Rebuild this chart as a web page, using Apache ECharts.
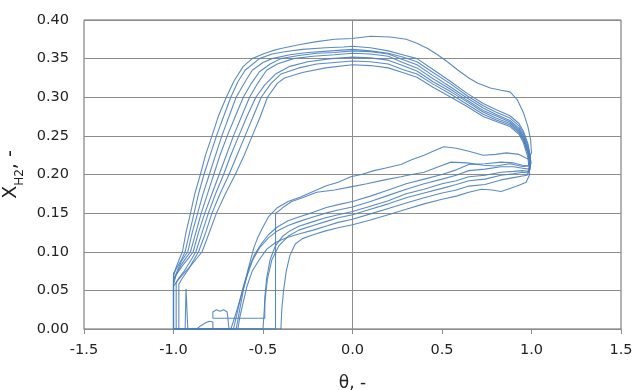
<!DOCTYPE html>
<html>
<head>
<meta charset="utf-8">
<script src="https://cdn.jsdelivr.net/npm/echarts@6/dist/echarts.min.js"></script>
<style>
  html, body { margin: 0; padding: 0; background: #fff; }
  #chart { width: 633px; height: 390px; }
</style>
</head>
<body>
<div id="chart"></div>
<script>
// x axis ticks and y axis ticks
const thetaTicks = { min: -1.5, max: 1.5, step: 0.5 };
const xh2Ticks = { min: 0, max: 0.4, step: 0.05 };

// cycles: [theta, X_H2]
const cycle1 = [[-1.0,0.0],[-1.0,0.068],[-0.985,0.08],[-0.965,0.092],[-0.95,0.10],[-0.93,0.125],[-0.905,0.15],[-0.88,0.176],[-0.85,0.2],[-0.82,0.226],[-0.785,0.25],[-0.75,0.275],[-0.705,0.3],[-0.66,0.322],[-0.61,0.34],[-0.56,0.35],[-0.5,0.356],[-0.45,0.36],[-0.4,0.363],[-0.3,0.368],[-0.2,0.372],[-0.1,0.375],[0.0,0.376],[0.1,0.379],[0.21,0.378],[0.3,0.375],[0.36,0.37],[0.42,0.363],[0.475,0.355],[0.53,0.346],[0.59,0.335],[0.65,0.325],[0.7,0.318],[0.77,0.312],[0.83,0.309],[0.88,0.307],[0.92,0.297],[0.955,0.28],[0.98,0.262],[0.995,0.245],[1.0,0.228],[0.98,0.22],[0.93,0.226],[0.86,0.228],[0.8,0.226],[0.73,0.225],[0.65,0.23],[0.58,0.234],[0.51,0.236],[0.45,0.23],[0.4,0.225],[0.33,0.219],[0.27,0.213],[0.18,0.208],[0.12,0.205],[0.05,0.2],[-0.01,0.197],[-0.08,0.19],[-0.15,0.185],[-0.22,0.178],[-0.29,0.171],[-0.36,0.165],[-0.42,0.157],[-0.47,0.145],[-0.5,0.132],[-0.53,0.118],[-0.55,0.106],[-0.58,0.08],[-0.61,0.05],[-0.63,0.025],[-0.65,0.0],[-1.0,0.0]];
const cycle2 = [[-1.0,0.0],[-1.0,0.072],[-0.975,0.082],[-0.955,0.09],[-0.935,0.10],[-0.91,0.125],[-0.885,0.15],[-0.86,0.175],[-0.83,0.2],[-0.795,0.225],[-0.76,0.25],[-0.72,0.275],[-0.68,0.3],[-0.64,0.32],[-0.6,0.335],[-0.52,0.35],[-0.45,0.356],[-0.38,0.359],[-0.28,0.362],[-0.15,0.364],[-0.05,0.365],[0.0,0.366],[0.1,0.364],[0.2,0.36],[0.28,0.355],[0.36,0.35],[0.45,0.336],[0.55,0.32],[0.64,0.305],[0.73,0.292],[0.8,0.284],[0.88,0.276],[0.93,0.266],[0.955,0.256],[0.98,0.24],[0.995,0.222],[0.99,0.212],[0.955,0.21],[0.88,0.214],[0.8,0.211],[0.73,0.212],[0.64,0.215],[0.55,0.216],[0.48,0.21],[0.4,0.203],[0.33,0.2],[0.27,0.197],[0.18,0.193],[0.08,0.188],[-0.01,0.184],[-0.1,0.18],[-0.2,0.177],[-0.28,0.17],[-0.34,0.165],[-0.385,0.158],[-0.41,0.153],[-0.43,0.15],[-0.43,0.0],[-1.0,0.0]];
const cycle3 = [[-1.0,0.0],[-1.0,0.062],[-0.98,0.075],[-0.955,0.088],[-0.92,0.1],[-0.895,0.125],[-0.865,0.15],[-0.835,0.175],[-0.8,0.2],[-0.765,0.225],[-0.73,0.25],[-0.69,0.275],[-0.65,0.3],[-0.6,0.32],[-0.56,0.335],[-0.5,0.345],[-0.45,0.35],[-0.35,0.355],[-0.25,0.358],[-0.12,0.36],[0.0,0.362],[0.1,0.36],[0.2,0.357],[0.28,0.352],[0.36,0.346],[0.45,0.332],[0.55,0.317],[0.64,0.302],[0.73,0.289],[0.8,0.281],[0.88,0.273],[0.93,0.263],[0.955,0.253],[0.98,0.237],[0.995,0.218],[0.98,0.211],[0.95,0.212],[0.9,0.215],[0.83,0.216],[0.74,0.214],[0.65,0.213],[0.58,0.206],[0.5,0.2],[0.4,0.194],[0.3,0.188],[0.2,0.18],[0.1,0.172],[0.0,0.165],[-0.08,0.161],[-0.15,0.157],[-0.22,0.151],[-0.3,0.145],[-0.36,0.14],[-0.42,0.132],[-0.47,0.122],[-0.51,0.11],[-0.55,0.095],[-0.58,0.078],[-0.61,0.055],[-0.63,0.035],[-0.65,0.015],[-0.665,0.0],[-1.0,0.0]];
const cycle4 = [[-1.0,0.0],[-1.0,0.058],[-0.985,0.07],[-0.96,0.082],[-0.93,0.092],[-0.905,0.1],[-0.875,0.125],[-0.845,0.15],[-0.81,0.175],[-0.775,0.2],[-0.74,0.225],[-0.7,0.25],[-0.655,0.275],[-0.61,0.3],[-0.565,0.318],[-0.52,0.333],[-0.46,0.343],[-0.4,0.35],[-0.3,0.354],[-0.2,0.357],[-0.1,0.358],[0.0,0.36],[0.1,0.359],[0.2,0.356],[0.28,0.349],[0.36,0.342],[0.45,0.328],[0.55,0.313],[0.64,0.299],[0.73,0.286],[0.8,0.278],[0.88,0.27],[0.93,0.26],[0.955,0.25],[0.98,0.234],[0.998,0.215],[0.985,0.207],[0.95,0.208],[0.9,0.21],[0.83,0.21],[0.74,0.207],[0.65,0.205],[0.58,0.199],[0.5,0.194],[0.4,0.188],[0.3,0.181],[0.2,0.173],[0.1,0.165],[0.0,0.158],[-0.08,0.154],[-0.15,0.15],[-0.22,0.145],[-0.3,0.139],[-0.36,0.134],[-0.42,0.127],[-0.47,0.118],[-0.52,0.105],[-0.56,0.088],[-0.59,0.068],[-0.62,0.045],[-0.645,0.025],[-0.665,0.01],[-0.68,0.0],[-1.0,0.0]];
const cycle5 = [[-1.0,0.0],[-1.0,0.065],[-0.98,0.072],[-0.95,0.082],[-0.915,0.092],[-0.89,0.1],[-0.86,0.125],[-0.825,0.15],[-0.785,0.175],[-0.745,0.2],[-0.705,0.225],[-0.665,0.25],[-0.62,0.275],[-0.575,0.3],[-0.53,0.318],[-0.48,0.335],[-0.42,0.343],[-0.33,0.35],[-0.22,0.353],[-0.1,0.355],[0.0,0.357],[0.1,0.356],[0.2,0.353],[0.28,0.345],[0.36,0.338],[0.45,0.324],[0.55,0.31],[0.64,0.296],[0.73,0.283],[0.8,0.276],[0.88,0.268],[0.93,0.258],[0.955,0.248],[0.98,0.231],[0.995,0.212],[0.98,0.204],[0.95,0.205],[0.9,0.204],[0.83,0.203],[0.74,0.199],[0.65,0.197],[0.58,0.192],[0.5,0.188],[0.4,0.181],[0.3,0.175],[0.2,0.166],[0.1,0.159],[0.0,0.152],[-0.08,0.148],[-0.15,0.144],[-0.22,0.139],[-0.3,0.133],[-0.35,0.127],[-0.39,0.12],[-0.43,0.108],[-0.46,0.09],[-0.48,0.065],[-0.49,0.04],[-0.49,0.014],[-0.6,0.014],[-0.7,0.014],[-0.78,0.014],[-0.78,0.022],[-0.76,0.025],[-0.74,0.023],[-0.72,0.025],[-0.7,0.022],[-0.69,0.022],[-0.69,0.0],[-1.0,0.0]];
const cycle6 = [[-0.985,0.0],[-0.985,0.06],[-0.97,0.066],[-0.94,0.075],[-0.905,0.088],[-0.875,0.1],[-0.84,0.125],[-0.805,0.15],[-0.765,0.175],[-0.72,0.2],[-0.68,0.225],[-0.635,0.25],[-0.59,0.275],[-0.54,0.3],[-0.49,0.316],[-0.43,0.33],[-0.35,0.34],[-0.25,0.346],[-0.12,0.35],[0.0,0.352],[0.1,0.351],[0.2,0.348],[0.28,0.341],[0.36,0.334],[0.45,0.32],[0.55,0.307],[0.64,0.294],[0.73,0.281],[0.8,0.273],[0.88,0.266],[0.93,0.256],[0.955,0.246],[0.98,0.229],[0.995,0.21],[0.98,0.202],[0.95,0.203],[0.9,0.201],[0.83,0.199],[0.74,0.194],[0.65,0.192],[0.58,0.187],[0.5,0.182],[0.4,0.176],[0.3,0.17],[0.2,0.162],[0.1,0.155],[0.0,0.148],[-0.08,0.144],[-0.15,0.139],[-0.22,0.134],[-0.3,0.128],[-0.36,0.12],[-0.41,0.108],[-0.45,0.09],[-0.475,0.065],[-0.49,0.035],[-0.5,0.0],[-0.78,0.0],[-0.78,0.009],[-0.8,0.01],[-0.82,0.008],[-0.85,0.004],[-0.87,0.0],[-0.985,0.0]];
const cycle7 = [[-0.97,0.0],[-0.97,0.058],[-0.95,0.066],[-0.92,0.076],[-0.89,0.088],[-0.86,0.1],[-0.82,0.125],[-0.785,0.15],[-0.74,0.175],[-0.69,0.2],[-0.645,0.225],[-0.6,0.25],[-0.555,0.275],[-0.51,0.3],[-0.455,0.318],[-0.4,0.33],[-0.3,0.338],[-0.2,0.343],[-0.1,0.345],[0.0,0.347],[0.1,0.346],[0.2,0.343],[0.28,0.336],[0.36,0.33],[0.45,0.317],[0.55,0.304],[0.64,0.291],[0.73,0.278],[0.8,0.271],[0.88,0.264],[0.93,0.254],[0.955,0.244],[0.98,0.227],[0.993,0.207],[0.975,0.199],[0.95,0.198],[0.9,0.196],[0.83,0.193],[0.74,0.187],[0.65,0.185],[0.58,0.18],[0.5,0.176],[0.4,0.17],[0.3,0.163],[0.2,0.156],[0.1,0.149],[0.0,0.142],[-0.08,0.138],[-0.15,0.133],[-0.22,0.128],[-0.3,0.123],[-0.37,0.118],[-0.43,0.112],[-0.48,0.103],[-0.52,0.09],[-0.56,0.075],[-0.59,0.055],[-0.61,0.035],[-0.63,0.015],[-0.64,0.0],[-0.97,0.0]];
const cycle8 = [[-1.0,0.0],[-1.0,0.055],[-0.98,0.062],[-0.95,0.07],[-0.91,0.08],[-0.875,0.09],[-0.84,0.1],[-0.8,0.125],[-0.76,0.15],[-0.71,0.175],[-0.655,0.2],[-0.605,0.225],[-0.56,0.25],[-0.515,0.275],[-0.475,0.3],[-0.42,0.318],[-0.38,0.325],[-0.28,0.332],[-0.15,0.338],[0.0,0.342],[0.1,0.341],[0.2,0.338],[0.28,0.332],[0.36,0.326],[0.45,0.313],[0.55,0.3],[0.64,0.288],[0.73,0.275],[0.8,0.269],[0.88,0.262],[0.93,0.252],[0.955,0.241],[0.98,0.222],[0.99,0.2],[0.97,0.19],[0.93,0.186],[0.88,0.182],[0.83,0.178],[0.78,0.18],[0.72,0.181],[0.65,0.177],[0.58,0.172],[0.5,0.168],[0.4,0.162],[0.3,0.155],[0.2,0.148],[0.1,0.141],[0.0,0.135],[-0.08,0.131],[-0.15,0.127],[-0.22,0.122],[-0.28,0.117],[-0.32,0.11],[-0.35,0.095],[-0.37,0.075],[-0.385,0.05],[-0.395,0.025],[-0.4,0.0],[-0.92,0.0],[-0.93,0.052],[-0.935,0.0],[-1.0,0.0]];

const cycles = [cycle1, cycle2, cycle3, cycle4, cycle5, cycle6, cycle7, cycle8];

const chart = echarts.init(document.getElementById('chart'));
const labelFont = { fontFamily: 'DejaVu Sans', fontSize: 14.5, color: '#222' };

chart.setOption({
  animation: false,
  grid: {
    left: 84, right: 12, top: 20, bottom: 61,
    outerBoundsMode: 'none',
    show: true, borderColor: '#666', borderWidth: 1
  },
  xAxis: {
    type: 'value',
    min: thetaTicks.min, max: thetaTicks.max, interval: thetaTicks.step,
    name: 'θ, -',
    nameLocation: 'middle',
    nameGap: 46,
    nameTextStyle: { fontFamily: 'DejaVu Sans', fontSize: 17, color: '#222' },
    axisLine: { onZero: false, lineStyle: { color: '#8c8c8c', width: 1 } },
    axisTick: { show: true, inside: false, length: 5, lineStyle: { color: '#8c8c8c' } },
    axisLabel: Object.assign({ margin: 14, formatter: v => v.toFixed(1) }, labelFont),
    splitLine: { show: false }
  },
  yAxis: {
    type: 'value',
    min: xh2Ticks.min, max: xh2Ticks.max, interval: xh2Ticks.step,
    name: '{x|X}{s|H2}{x|, -}',
    nameLocation: 'middle',
    nameGap: 54,
    nameTextStyle: {
      color: '#222',
      rich: {
        x: { fontFamily: 'DejaVu Sans', fontSize: 19, color: '#222', lineHeight: 22, verticalAlign: 'top' },
        s: { fontFamily: 'DejaVu Sans', fontSize: 12, color: '#222', lineHeight: 12, padding: [12, 0, 0, 0], verticalAlign: 'top' }
      }
    },
    axisLine: { show: true, lineStyle: { color: '#8c8c8c', width: 1 } },
    axisTick: { show: true, inside: false, length: 7, lineStyle: { color: '#8c8c8c' } },
    axisLabel: Object.assign({ margin: 15, formatter: v => v.toFixed(2) }, labelFont),
    splitLine: { show: true, lineStyle: { color: '#8c8c8c', width: 1.2 } }
  },
  series: cycles.map((c, i) => ({
    name: 'cycle ' + (i + 1),
    type: 'line',
    data: c,
    showSymbol: false,
    smooth: false,
    lineStyle: { color: '#4a7ebb', width: 1.1, opacity: 0.9 }
  }))
});
</script>
</body>
</html>
